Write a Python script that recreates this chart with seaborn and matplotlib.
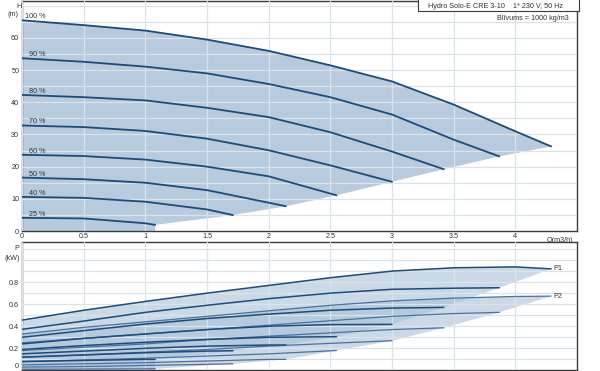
import numpy as np
import pandas as pd
import matplotlib
matplotlib.use("Agg")
import matplotlib.pyplot as plt
import seaborn as sns
from matplotlib.patches import Rectangle

# speeds and H-Q curves
speeds = ['100 %', '90 %', '80 %', '70 %', '60 %', '50 %', '40 %', '25 %']

q_100 = [0, 0.5, 1.0, 1.5, 2.0, 2.5, 3.0, 3.5, 4.0, 4.29]
q_90 = [0, 0.5, 1.0, 1.5, 2.0, 2.5, 3.0, 3.5, 3.87]
q_80 = [0, 0.5, 1.0, 1.5, 2.0, 2.5, 3.0, 3.42]
q_70 = [0, 0.5, 1.0, 1.5, 2.0, 2.5, 3.0]
q_60 = [0, 0.5, 1.0, 1.5, 2.0, 2.55]
q_50 = [0, 0.5, 1.0, 1.5, 2.0, 2.14]
q_40 = [0, 0.5, 1.0, 1.5, 1.71]
q_25 = [0, 0.5, 1.0, 1.08]

h_100 = [65.5, 64.0, 62.3, 59.5, 56.0, 51.5, 46.5, 39.3, 31.0, 26.3]
h_90 = [53.7, 52.6, 51.1, 49.0, 45.7, 41.6, 36.2, 28.4, 23.2]
h_80 = [42.3, 41.6, 40.6, 38.3, 35.4, 30.7, 24.7, 19.2]
h_70 = [32.8, 32.3, 31.1, 28.7, 25.1, 20.4, 15.3]
h_60 = [23.7, 23.3, 22.2, 20.0, 17.0, 11.1]
h_50 = [16.6, 16.1, 15.0, 12.7, 8.8, 7.7]
h_40 = [10.6, 10.3, 9.1, 6.7, 4.95]
h_25 = [4.1, 3.9, 2.4, 1.9]

# power curves P1 / P2 (kW)
p1_100 = [0.456, 0.545, 0.625, 0.70, 0.77, 0.84, 0.90, 0.93, 0.938, 0.92]
p1_90 = [0.372, 0.447, 0.526, 0.59, 0.65, 0.70, 0.735, 0.745, 0.749]
p1_80 = [0.30, 0.36, 0.42, 0.47, 0.51, 0.545, 0.565, 0.571]
p1_70 = [0.24, 0.29, 0.33, 0.37, 0.40, 0.415, 0.417]
p1_60 = [0.19, 0.225, 0.255, 0.28, 0.30, 0.305]
p1_50 = [0.15, 0.175, 0.20, 0.22, 0.23, 0.23]
p1_40 = [0.12, 0.14, 0.16, 0.175, 0.178]
p1_25 = [0.08, 0.09, 0.10, 0.10]

p2_100 = [0.33, 0.39, 0.44, 0.49, 0.54, 0.59, 0.63, 0.655, 0.67, 0.673]
p2_90 = [0.25, 0.29, 0.33, 0.37, 0.41, 0.45, 0.49, 0.515, 0.526]
p2_80 = [0.18, 0.21, 0.24, 0.28, 0.31, 0.34, 0.37, 0.386]
p2_70 = [0.12, 0.14, 0.165, 0.19, 0.22, 0.245, 0.269]
p2_60 = [0.08, 0.095, 0.11, 0.13, 0.15, 0.18]
p2_50 = [0.05, 0.06, 0.07, 0.085, 0.10, 0.10]
p2_40 = [0.03, 0.035, 0.045, 0.055, 0.06]
p2_25 = [0.01, 0.012, 0.014, 0.015]

x_ticks = [0, 0.5, 1, 1.5, 2, 2.5, 3, 3.5, 4]
x_labels = ['0', '0.5', '1', '1.5', '2', '2.5', '3', '3.5', '4']
h_labels = ['0', '', '10', '', '20', '', '30', '', '40', '', '50', '', '60', '', '']
p_labels = ['0', '', '0.2', '', '0.4', '', '0.6', '', '0.8', '', '', '']

qs = [q_100, q_90, q_80, q_70, q_60, q_50, q_40, q_25]
hs = [h_100, h_90, h_80, h_70, h_60, h_50, h_40, h_25]
p1s = [p1_100, p1_90, p1_80, p1_70, p1_60, p1_50, p1_40, p1_25]
p2s = [p2_100, p2_90, p2_80, p2_70, p2_60, p2_50, p2_40, p2_25]

rows = []
for sp, q, h, p1, p2 in zip(speeds, qs, hs, p1s, p2s):
    for i in range(len(q)):
        rows.append({'speed': sp, 'Q': q[i], 'H': h[i], 'P1': p1[i], 'P2': p2[i]})
df = pd.DataFrame(rows)

line_col = '#1b4c7c'
p2_col = '#4a72a0'
fill_col = '#b7cade'
grid_col = '#dae2ea'
text_col = '#333333'
font = ['Liberation Sans', 'DejaVu Sans']
fs = 5.2

sns.set_style('white')
plt.rcParams['font.family'] = font
plt.rcParams['font.size'] = fs

fig = plt.figure(figsize=(6, 3.71), dpi=100)
ax1 = fig.add_axes([22 / 600, 140 / 371, 555 / 600, 230 / 371])
ax2 = fig.add_axes([22 / 600, 0.6 / 371, 555 / 600, 128 / 371])

# ---- H(Q) panel
ends_q = [q[-1] for q in qs]
ends_h = [h[-1] for h in hs]
poly_x = [0] + q_100 + ends_q[1:] + [ends_q[-1], 0]
poly_y = [0] + h_100 + ends_h[1:] + [0, 0]
ax1.fill(poly_x, poly_y, color=fill_col, lw=0, zorder=1)
sns.lineplot(data=df, x='Q', y='H', units='speed', estimator=None, sort=False,
             color=line_col, lw=1.3, ax=ax1, zorder=3)
for sp, h in zip(speeds, hs):
    ax1.text(0.19, h[0] + 1.1, sp, ha='right', va='center', fontsize=fs, color=text_col, zorder=4)

# ---- P(Q) panel
for lst in [p1s, p2s]:
    ends_p = [p[-1] for p in lst]
    px = [0] + q_100 + ends_q[1:] + [ends_q[-1], 0]
    py = [lst[0][0]] + lst[0] + ends_p[1:] + [0, 0]
    ax2.fill(px, py, color='#a9c0d8', alpha=0.6, lw=0, zorder=1)
sns.lineplot(data=df, x='Q', y='P2', units='speed', estimator=None, sort=False,
             color=p2_col, lw=0.9, ax=ax2, zorder=3)
sns.lineplot(data=df, x='Q', y='P1', units='speed', estimator=None, sort=False,
             color=line_col, lw=1.1, ax=ax2, zorder=3)
ax2.text(4.31, p1_100[-1], 'P1', ha='left', va='center', fontsize=fs, color=text_col)
ax2.text(4.31, p2_100[-1], 'P2', ha='left', va='center', fontsize=fs, color=text_col)

for ax in [ax1, ax2]:
    ax.set_xlim(0, 4.5)
    ax.set_xlabel('')
    ax.set_ylabel('')
    ax.set_axisbelow(False)
    ax.grid(True, color=grid_col, lw=0.9, zorder=2)
    ax.tick_params(length=0, labelsize=fs, colors=text_col, pad=2)
    for s in ax.spines.values():
        s.set_color('#3a3a3a')
        s.set_linewidth(1.0)

ax1.set_ylim(0, 71.5)
ax1.set_yticks(np.arange(0, 71, 5))
ax1.set_yticklabels(h_labels)
ax1.set_xticks(x_ticks)
ax1.set_xticklabels(x_labels)
ax1.tick_params(axis='x', pad=1.5)
ax1.text(4.36, -1.8, 'Q(m3/h)', ha='center', va='top', fontsize=fs, color=text_col)

ax2.set_ylim(0, 1.16)
ax2.set_yticks(np.round(np.arange(0, 1.15, 0.1), 1))
ax2.set_yticklabels(p_labels)
ax2.get_yticklabels()[0].set_verticalalignment('bottom')
ax2.set_xticks(x_ticks)
ax2.set_xticklabels([])

fig.text(19 / 600, 1 - 6 / 371, 'H', ha='center', va='center', fontsize=fs, color=text_col)
fig.text(13 / 600, 1 - 15 / 371, '(m)', ha='center', va='center', fontsize=fs, color=text_col)
fig.text(17 / 600, 1 - 248 / 371, 'P', ha='center', va='center', fontsize=fs, color=text_col)
fig.text(12.5 / 600, 1 - 258 / 371, '(kW)', ha='center', va='center', fontsize=fs, color=text_col)

# header box
ax1.add_patch(Rectangle((0.7135, 0.9565), 0.29, 0.06, transform=ax1.transAxes,
                        facecolor='white', edgecolor='#3a3a3a', lw=0.8, zorder=5, clip_on=False))
ax1.text(0.7315, 0.978, 'Hydro Solo-E CRE 3-10    1* 230 V, 50 Hz', transform=ax1.transAxes,
         ha='left', va='center', fontsize=fs, color=text_col, zorder=6)
ax1.text(0.9856, 0.926, 'Blīvums = 1000 kg/m3', transform=ax1.transAxes,
         ha='right', va='center', fontsize=fs, color=text_col, zorder=6)

fig.savefig('out.png', dpi=100)
